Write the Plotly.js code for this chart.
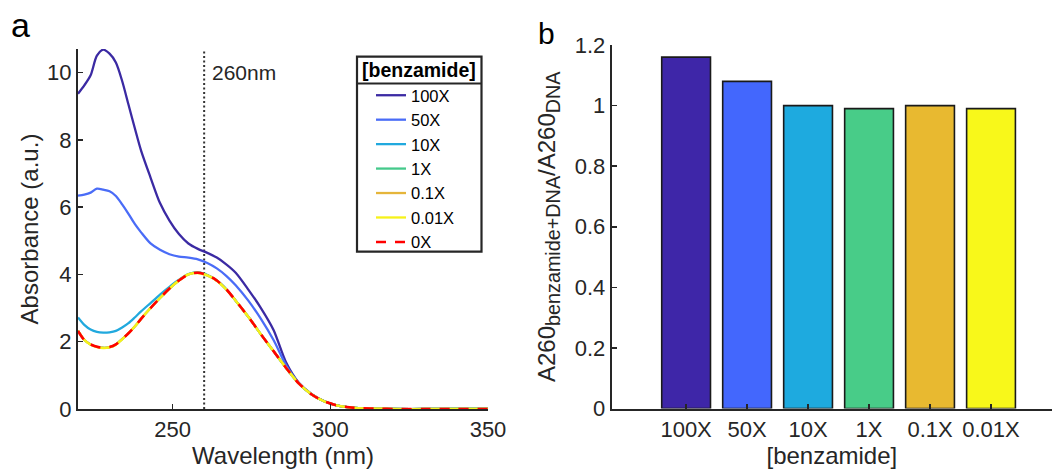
<!DOCTYPE html>
<html>
<head>
<meta charset="utf-8">
<script src="https://cdn.plot.ly/plotly-3.0.1.min.js"></script>
<style>
  html, body { margin: 0; padding: 0; background: #ffffff; }
  #chart { width: 1052px; height: 470px; }
</style>
</head>
<body>
<div id="chart"></div>
<script>
// ---------- Data ----------
const wavelength = [220,222,224,226,228,230,232,234,236,238,240,243,246,249,252,255,258,261,264,267,270,274,278,282,286,290,294,298,302,306,310,315,320,330,340,350];

const abs100X = [9.37,9.62,9.92,10.50,10.68,10.56,10.30,9.75,9.05,8.35,7.68,6.88,6.12,5.60,5.20,4.92,4.76,4.64,4.50,4.30,4.05,3.55,3.00,2.35,1.38,0.78,0.45,0.24,0.11,0.05,0.02,0.01,0,0,0,0];
const abs50X  = [6.34,6.37,6.43,6.55,6.52,6.47,6.33,6.08,5.80,5.50,5.25,4.92,4.73,4.60,4.53,4.50,4.45,4.34,4.18,3.96,3.68,3.22,2.68,2.05,1.30,0.77,0.44,0.23,0.11,0.05,0.02,0.01,0,0,0,0];
const abs10X  = [2.72,2.50,2.36,2.29,2.27,2.28,2.32,2.42,2.55,2.72,2.90,3.15,3.40,3.63,3.84,4.01,4.06,3.98,3.82,3.56,3.22,2.74,2.22,1.72,1.22,0.76,0.44,0.23,0.11,0.05,0.02,0.01,0,0,0,0];
const abs1X   = [2.32,2.05,1.92,1.85,1.82,1.84,1.92,2.08,2.25,2.45,2.68,3.00,3.30,3.58,3.82,4.00,4.06,3.98,3.82,3.56,3.22,2.74,2.22,1.72,1.22,0.76,0.44,0.23,0.11,0.05,0.02,0.01,0,0,0.01,0.01];
const abs01X  = [2.33,2.06,1.92,1.85,1.82,1.84,1.92,2.08,2.25,2.45,2.68,3.00,3.30,3.58,3.82,4.00,4.05,3.97,3.82,3.56,3.22,2.74,2.22,1.72,1.22,0.76,0.44,0.23,0.11,0.05,0.02,0.01,0,0,0,0];
const abs001X = [2.32,2.05,1.91,1.84,1.81,1.83,1.91,2.07,2.25,2.45,2.68,3.00,3.30,3.58,3.82,4.00,4.04,3.97,3.81,3.55,3.22,2.74,2.22,1.72,1.22,0.76,0.44,0.23,0.11,0.05,0.02,0.01,0,0,0,0];
const abs0X   = [2.32,2.05,1.92,1.85,1.82,1.84,1.92,2.08,2.25,2.45,2.68,3.00,3.30,3.58,3.82,4.00,4.05,3.98,3.82,3.56,3.22,2.74,2.22,1.72,1.22,0.76,0.44,0.23,0.11,0.05,0.02,0.01,0,0,0,0];

const seriesNames = ["100X","50X","10X","1X","0.1X","0.01X","0X"];
const refWavelength = 260;
const refLabel = "260nm";
const legendTitle = "[benzamide]";

const barCategories = ["100X","50X","10X","1X","0.1X","0.01X"];
const barRatio = [1.16, 1.08, 1.00, 0.99, 1.00, 0.99];

// ---------- Styles ----------
const lineColors = ["#3b2aa3","#4a6cf7","#21a9de","#45c98b","#e5b53a","#f6f21a","#ff0000"];
const barColors  = ["#3e26a8","#4367fd","#1eaadf","#48cc88","#e8b930","#f8f81a"];
const ink = "#262626";
const FONT = "Liberation Sans, Arial, Helvetica, sans-serif";

const absSeries = [abs100X, abs50X, abs10X, abs1X, abs01X, abs001X, abs0X];

const traces = absSeries.map((ys, i) => ({
  type: "scatter",
  mode: "lines",
  x: wavelength,
  y: ys,
  name: seriesNames[i],
  xaxis: "x",
  yaxis: "y",
  line: {
    color: lineColors[i],
    width: i === 6 ? 2.6 : 2.3,
    shape: "spline",
    smoothing: 0.8,
    dash: i === 6 ? "10px,9px" : "solid"
  },
  hoverinfo: "skip",
  showlegend: true
}));

traces.push({
  type: "bar",
  x: barCategories,
  y: barRatio,
  xaxis: "x2",
  yaxis: "y2",
  width: 0.8,
  marker: { color: barColors, line: { color: "#1a1a1a", width: 1.6 } },
  showlegend: false,
  hoverinfo: "skip"
});

const W = 1052, H = 470;
const px = v => v / W;
const py = v => (H - v) / H;

const axisCommon = {
  showline: true, linecolor: ink, linewidth: 2,
  ticks: "inside", ticklen: 5, tickwidth: 1.5, tickcolor: ink,
  showgrid: false, zeroline: false,
  tickfont: { family: FONT, size: 22, color: ink },
  fixedrange: true
};

const layout = {
  width: W, height: H,
  margin: { l: 0, r: 0, t: 0, b: 0, pad: 0 },
  paper_bgcolor: "#ffffff",
  plot_bgcolor: "rgba(0,0,0,0)",
  font: { family: FONT, color: ink },
  xaxis: Object.assign({}, axisCommon, {
    domain: [px(78), px(488)],
    range: [220, 350],
    tickvals: [250, 300, 350],
    anchor: "y",
    title: { text: "Wavelength (nm)", font: { family: FONT, size: 24, color: ink }, standoff: 4 }
  }),
  yaxis: Object.assign({}, axisCommon, {
    domain: [py(409), py(49)],
    range: [0, 10.7],
    tickvals: [0, 2, 4, 6, 8, 10],
    anchor: "x",
    title: { text: "Absorbance (a.u.)", font: { family: FONT, size: 24, color: ink }, standoff: 2 }
  }),
  xaxis2: Object.assign({}, axisCommon, {
    domain: [px(611.7), 1],
    type: "category",
    range: [-1.22, 6.0],
    anchor: "y2",
    title: { text: "[benzamide]", font: { family: FONT, size: 24, color: ink }, standoff: 4 }
  }),
  yaxis2: Object.assign({}, axisCommon, {
    domain: [py(408.5), py(45)],
    range: [0, 1.2],
    tickvals: [0, 0.2, 0.4, 0.6, 0.8, 1, 1.2],
    ticktext: ["0", "0.2", "0.4", "0.6", "0.8", "1", "1.2"],
    anchor: "x2",
    title: {
      text: "A260<sub><span style=\"font-size:19.8px\">benzamide+DNA</span></sub>/A260<sub><span style=\"font-size:19.8px\">DNA</span></sub>",
      font: { family: FONT, size: 24, color: ink }, standoff: 12
    }
  }),
  showlegend: true,
  legend: {
    x: px(371), xanchor: "left",
    y: py(78), yanchor: "top",
    bgcolor: "rgba(0,0,0,0)",
    borderwidth: 0,
    font: { family: FONT, size: 16.5, color: "#000000" },
    itemclick: false, itemdoubleclick: false,
    tracegroupgap: 0
  },
  shapes: [
    { type: "line", xref: "x", yref: "y domain", x0: refWavelength, x1: refWavelength, y0: 0, y1: 1,
      line: { color: "#333333", width: 2, dash: "2px,2.5px" }, layer: "below" },
    { type: "rect", xref: "paper", yref: "paper", x0: px(357), x1: px(481.5), y0: py(251.7), y1: py(56.7),
      line: { color: ink, width: 2.2 }, fillcolor: "rgba(255,255,255,0)", layer: "above" },
    { type: "line", xref: "paper", yref: "paper", x0: px(357), x1: px(481.5), y0: py(83.5), y1: py(83.5),
      line: { color: ink, width: 2.2 }, layer: "above" }
  ],
  annotations: [
    { text: refLabel, xref: "x", yref: "y", x: refWavelength, y: 10, xanchor: "left", yanchor: "middle",
      xshift: 6, showarrow: false, font: { family: FONT, size: 21, color: ink } },
    { text: "<b>" + legendTitle + "</b>", xref: "paper", yref: "paper", x: px(419.25), y: py(70), xanchor: "center", yanchor: "middle",
      showarrow: false, font: { family: FONT, size: 19.5, color: "#000000" } },
    { text: "a", xref: "paper", yref: "paper", x: px(20), y: py(25), xanchor: "center", yanchor: "middle",
      showarrow: false, font: { family: FONT, size: 34, color: "#000000" } },
    { text: "b", xref: "paper", yref: "paper", x: px(546), y: py(33), xanchor: "center", yanchor: "middle",
      showarrow: false, font: { family: FONT, size: 30, color: "#000000" } }
  ]
};

Plotly.newPlot("chart", traces, layout, { staticPlot: true, displayModeBar: false });
</script>
</body>
</html>
